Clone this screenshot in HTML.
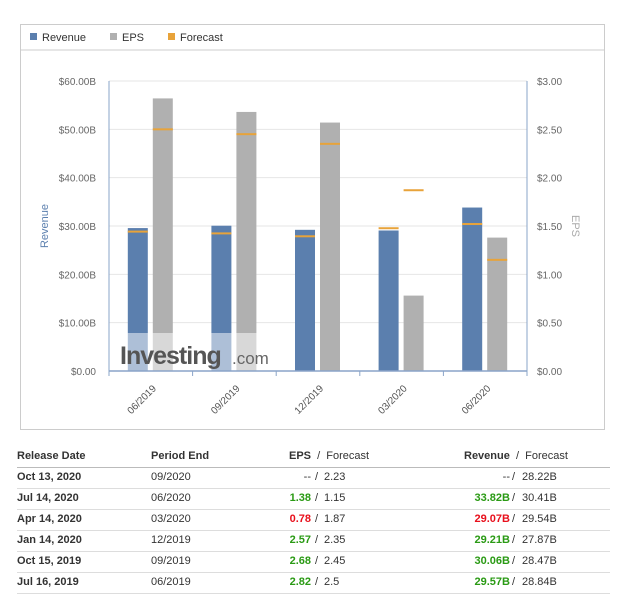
<!DOCTYPE html>
<html><head><meta charset="utf-8"><style>
body{margin:0;width:620px;height:615px;background:#fff;font-family:"Liberation Sans",Arial,sans-serif;position:relative;overflow:hidden}
.t{position:absolute;font-size:11px;color:#333;white-space:nowrap}
.b{font-weight:bold}
.g{color:#2a9a14;font-weight:bold}.r{color:#e8101c;font-weight:bold}
.ln{position:absolute;left:17px;width:593px;height:1px;background:#ddd}
</style></head><body>
<div style="position:absolute;left:20px;top:24px;width:583px;height:404px;border:1px solid #ccc"></div>
<svg id="chart" width="620" height="440" style="position:absolute;left:0;top:0" font-family="Liberation Sans, Arial, sans-serif"></svg>
<div id="tbl"></div>
<script>
const categories=["06/2019","09/2019","12/2019","03/2020","06/2020"];
const revenue=[29.57,30.06,29.21,29.07,33.82];
const revenueForecast=[28.84,28.47,27.87,29.54,30.41];
const eps=[2.82,2.68,2.57,0.78,1.38];
const epsForecast=[2.5,2.45,2.35,1.87,1.15];
const revTicks=["$0.00","$10.00B","$20.00B","$30.00B","$40.00B","$50.00B","$60.00B"];
const epsTicks=["$0.00","$0.50","$1.00","$1.50","$2.00","$2.50","$3.00"];
const NS="http://www.w3.org/2000/svg";
const svg=document.getElementById('chart');
const X0=109,X1=527,Y0=371,Y1=81;
const cw=(X1-X0)/categories.length;
const yR=v=>Y0-(v/60)*(Y0-Y1);
const yE=v=>Y0-(v/3)*(Y0-Y1);
function mk(tag,attrs){const e=document.createElementNS(NS,tag);for(const k in attrs)e.setAttribute(k,attrs[k]);svg.appendChild(e);return e;}
// legend
let e;
e=mk('line',{x1:20,x2:604,y1:50,y2:50,stroke:'#ccc'});
const leg=[["Revenue","#5b7fae",30],["EPS","#b0b0b0",110],["Forecast","#e8a33a",168]];
leg.forEach(l=>{
 e=mk('rect',{x:l[2],y:33,width:7,height:7,fill:l[1]});
 
 e=mk('text',{x:l[2]+12,y:41,'font-size':11,fill:'#333'});e.textContent=l[0];
 
});
// gridlines and ticks
revTicks.forEach((t,i)=>{
 const y=Y0-i*(Y0-Y1)/6;
 if(i>0){e=mk('line',{x1:X0,x2:X1,y1:y,y2:y,stroke:'#e6e6e6'});}
 e=mk('text',{x:96,y:y+4,'font-size':10,fill:'#666','text-anchor':'end'});e.textContent=t;
 
 e=mk('text',{x:537,y:y+4,'font-size':10,fill:'#666'});e.textContent=epsTicks[i];
 
});
// bars
categories.forEach((c,i)=>{
 const cx=X0+cw*i+cw/2;
 e=mk('rect',{x:cx-23,y:yR(revenue[i]),width:20,height:Y0-yR(revenue[i]),fill:'#5b7fae'});
 
 e=mk('rect',{x:cx+2,y:yE(eps[i]),width:20,height:Y0-yE(eps[i]),fill:'#b0b0b0'});
 
 e=mk('rect',{x:cx-23,y:yR(revenueForecast[i])-1,width:20,height:2,fill:'#e8a33a'});
 
 e=mk('rect',{x:cx+2,y:yE(epsForecast[i])-1,width:20,height:2,fill:'#e8a33a'});
 
 const tx=cx+6,ty=Y0+18;
 e=mk('text',{x:tx,y:ty,'font-size':10,fill:'#555','text-anchor':'end',transform:`rotate(-45 ${tx} ${ty})`});e.textContent=c;
 
 e=mk('line',{x1:X0+cw*i,x2:X0+cw*i,y1:Y0,y2:Y0+5,stroke:'#8aa4c8'});
});
mk('line',{x1:X1,x2:X1,y1:Y0,y2:Y0+5,stroke:'#8aa4c8'});
// watermark
e=mk('rect',{x:X0,y:333,width:cw*2.2,height:Y0-333,fill:'#fff','fill-opacity':0.5});

e=mk('text',{x:120,y:364,'font-size':25,'font-weight':'bold',fill:'#555','letter-spacing':'-1'});e.textContent="Investing";

e=mk('text',{x:232,y:364,'font-size':17,fill:'#666'});e.textContent=".com";
// axes
mk('line',{x1:X0,x2:X0,y1:Y1,y2:Y0,stroke:'#8aa4c8'});
mk('line',{x1:X1,x2:X1,y1:Y1,y2:Y0,stroke:'#8aa4c8'});
mk('line',{x1:X0,x2:X1,y1:Y0,y2:Y0,stroke:'#8aa4c8','stroke-width':1.5});
e=mk('text',{x:48,y:226,'font-size':11,fill:'#5b7fae','text-anchor':'middle',transform:'rotate(-90 48 226)'});e.textContent="Revenue";

e=mk('text',{x:572,y:226,'font-size':11,fill:'#aaa','text-anchor':'middle',transform:'rotate(90 572 226)'});e.textContent="EPS";

// table
const rows=[["Oct 13, 2020","09/2020","--","","2.23","--","","28.22B"],
["Jul 14, 2020","06/2020","1.38","g","1.15","33.82B","g","30.41B"],
["Apr 14, 2020","03/2020","0.78","r","1.87","29.07B","r","29.54B"],
["Jan 14, 2020","12/2019","2.57","g","2.35","29.21B","g","27.87B"],
["Oct 15, 2019","09/2019","2.68","g","2.45","30.06B","g","28.47B"],
["Jul 16, 2019","06/2019","2.82","g","2.5","29.57B","g","28.84B"]];
let h='<div class="t b" style="left:17px;top:450px">Release Date</div><div class="t b" style="left:151px;top:450px">Period End</div>'+
'<div class="t" style="left:289px;top:450px"><b>EPS</b> &nbsp;/&nbsp; Forecast</div><div class="t" style="left:464px;top:450px"><b>Revenue</b> &nbsp;/&nbsp; Forecast</div>'+
'<div class="ln" style="top:467px;background:#bbb;height:1px"></div>';
rows.forEach((r,i)=>{const y=471+i*21;
 h+=`<div><div class="t b" style="left:17px;top:${y}px">${r[0]}</div><div class="t" style="left:151px;top:${y}px">${r[1]}</div>`+
 `<div class="t ${r[3]}" style="right:${620-311}px;top:${y}px">${r[2]}</div><div class="t" style="left:315px;top:${y}px">/</div><div class="t" style="left:324px;top:${y}px">${r[4]}</div>`+
 `<div class="t ${r[6]}" style="right:${620-510}px;top:${y}px">${r[5]}</div><div class="t" style="left:512px;top:${y}px">/</div><div class="t" style="left:522px;top:${y}px">${r[7]}</div></div>`;
 h+=`<div class="ln" style="top:${488+i*21}px"></div>`;
});
document.getElementById('tbl').innerHTML=h;
</script>
</body></html>
